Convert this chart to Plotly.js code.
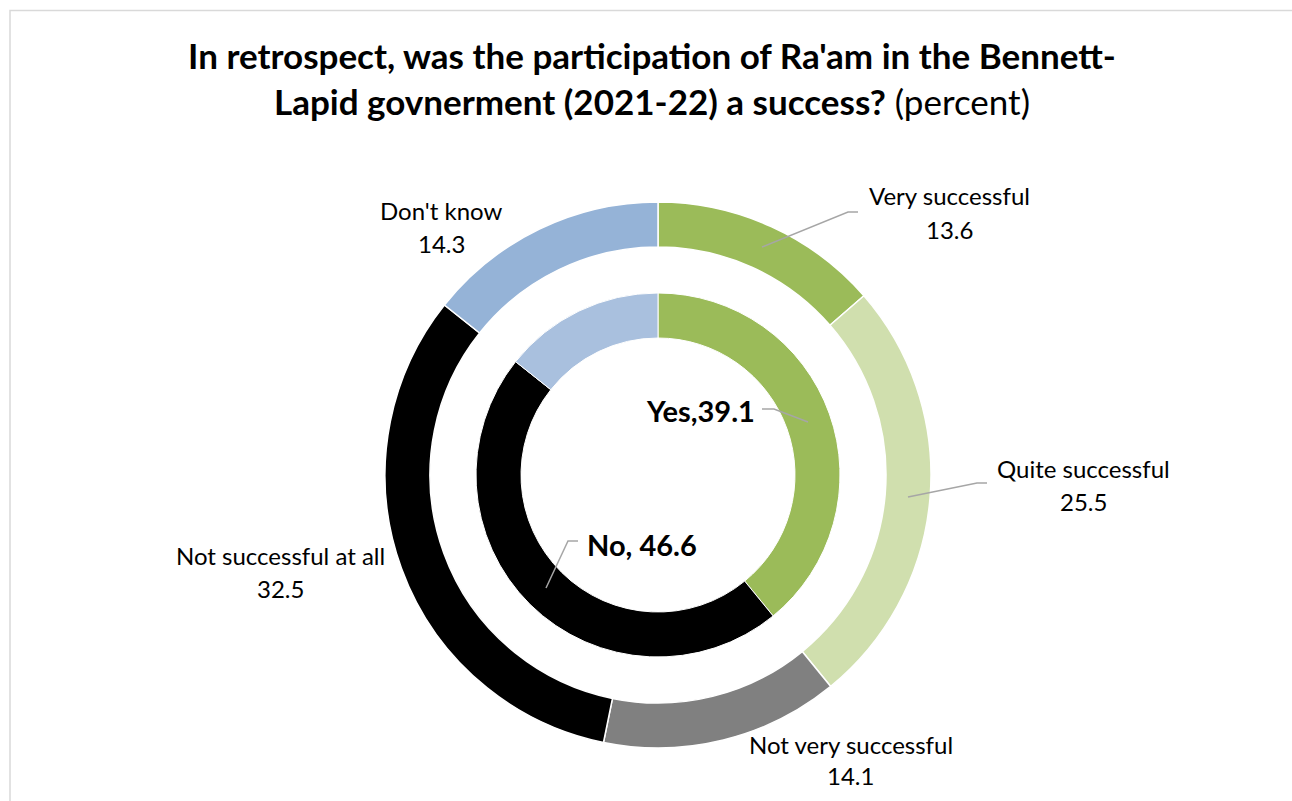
<!DOCTYPE html>
<html>
<head>
<meta charset="utf-8">
<script src="https://cdn.plot.ly/plotly-3.0.1.min.js"></script>
<style>
html,body{margin:0;padding:0;background:#fff;}
#chart{width:1292px;height:801px;}
</style>
</head>
<body>
<div id="chart"></div>
<script>
// ---- data ----
const outerLabels = ["Very successful", "Quite successful", "Not very successful", "Not successful at all", "Don't know"];
const outerValues = [13.6, 25.5, 14.1, 32.5, 14.3];
const innerLabels = ["Yes", "No", "Don't know"];
const innerValues = [39.1, 46.6, 14.3];
const innerSeparators = [",", ", "];
const titleLine1 = "In retrospect, was the participation of Ra'am in the Bennett-";
const titleLine2 = "Lapid govnerment (2021-22) a success?";
const titleSuffix = "(percent)";

// ---- styles ----
const outerColors = ["#9BBB59", "#D0DFAE", "#808080", "#000000", "#95B3D7"];
const innerColors = ["#9BBB59", "#000000", "#A9C0DE"];
const FONT = "Lato, 'Open Sans', sans-serif";

// ---- layout helpers (pixel -> paper) ----
const W = 1292, H = 801;
const px = x => x / W;
const py = y => 1 - y / H;

// ring geometry (pixels)
const cx = 658, cy = 475;
const outerR = 273, outerHole = 228 / 273;
const innerR = 182, innerHole = 137 / 182;

// label positions (pixels): [centerX, nameY, valueY]
const outerLabelPos = [
  [949, 196, 229],
  [1083, 468, 501],
  [851, 744, 775],
  [280, 555, 588],
  [441, 211, 243]
];
const innerLabelPos = [
  [700, 410],
  [642, 544]
];
// leader lines (pixels)
const outerLeaders = [
  [[762, 247], [848, 212], [858, 212]],
  [[908, 497], [977, 483], [987, 483]],
  null, null, null
];
const innerLeaders = [
  [[762, 409], [774, 409], [808, 422]],
  [[546, 588], [568, 541], [578, 541]]
];

const traces = [
  {
    type: "pie",
    labels: outerLabels,
    values: outerValues,
    sort: false,
    direction: "clockwise",
    rotation: 0,
    hole: outerHole,
    textinfo: "none",
    hoverinfo: "label+value",
    showlegend: false,
    marker: {colors: outerColors, line: {color: "#FFFFFF", width: 1.5}},
    domain: {x: [px(cx - outerR), px(cx + outerR)], y: [py(cy + outerR), py(cy - outerR)]}
  },
  {
    type: "pie",
    labels: innerLabels,
    values: innerValues,
    sort: false,
    direction: "clockwise",
    rotation: 0,
    hole: innerHole,
    textinfo: "none",
    hoverinfo: "label+value",
    showlegend: false,
    marker: {colors: innerColors, line: {color: "#FFFFFF", width: 1}},
    domain: {x: [px(cx - innerR), px(cx + innerR)], y: [py(cy + innerR), py(cy - innerR)]}
  }
];

const annotations = [];
outerLabels.forEach((lab, i) => {
  const p = outerLabelPos[i];
  annotations.push({xref: "paper", yref: "paper", x: px(p[0]), y: py(p[1]), text: lab,
    showarrow: false, xanchor: "center", yanchor: "middle",
    font: {family: FONT, size: 24, color: "#000"}});
  annotations.push({xref: "paper", yref: "paper", x: px(p[0]), y: py(p[2]), text: outerValues[i].toFixed(1),
    showarrow: false, xanchor: "center", yanchor: "middle",
    font: {family: FONT, size: 24, color: "#000"}});
});
innerLabelPos.forEach((p, i) => {
  annotations.push({xref: "paper", yref: "paper", x: px(p[0]), y: py(p[1]),
    text: "<b>" + innerLabels[i] + innerSeparators[i] + innerValues[i].toFixed(1) + "</b>",
    showarrow: false, xanchor: "center", yanchor: "middle",
    font: {family: FONT, size: 29, color: "#000"}});
});

const shapes = [];
// chart frame
shapes.push({type: "rect", xref: "paper", yref: "paper", x0: px(10), y0: -0.2, x1: 1.2, y1: py(10.5),
  line: {color: "#D9D9D9", width: 1.5}, fillcolor: "rgba(0,0,0,0)", layer: "below"});
const leaderPath = pts => pts.map((q, k) => (k ? "L" : "M") + px(q[0]) + "," + py(q[1])).join(" ");
outerLeaders.concat(innerLeaders).forEach(pts => {
  if (!pts) return;
  shapes.push({type: "path", xref: "paper", yref: "paper", path: leaderPath(pts),
    line: {color: "#A6A6A6", width: 1.5}});
});

const layout = {
  width: W, height: H,
  margin: {l: 0, r: 0, t: 0, b: 0},
  paper_bgcolor: "#FFFFFF",
  plot_bgcolor: "#FFFFFF",
  showlegend: false,
  title: {
    text: "<b>" + titleLine1 + "<br>" + titleLine2 + "</b> " + titleSuffix,
    x: px(652), xanchor: "center",
    y: py(69), yref: "container", yanchor: "middle",
    font: {family: FONT, size: 35, color: "#000"}
  },
  annotations: annotations,
  shapes: shapes
};

Plotly.newPlot("chart", traces, layout, {displayModeBar: false, staticPlot: true});
</script>
</body>
</html>
